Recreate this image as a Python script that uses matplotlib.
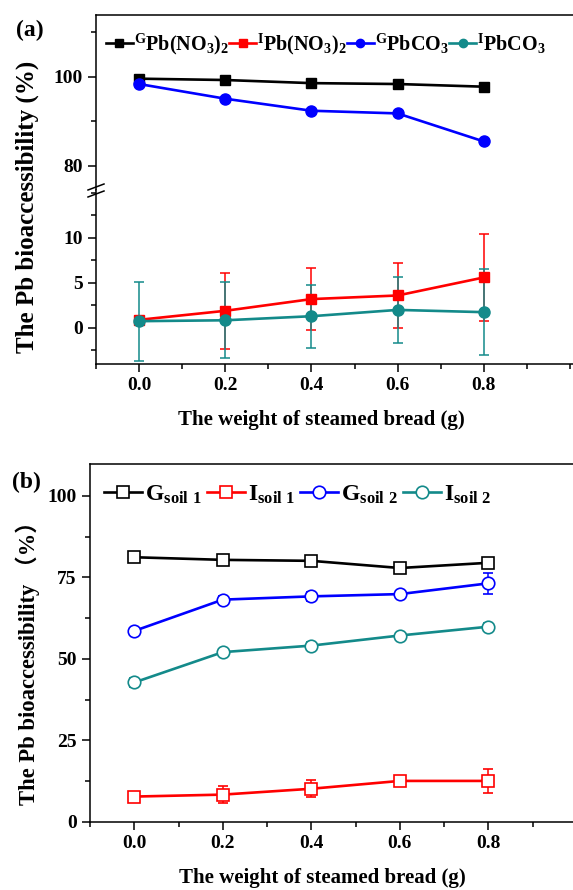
import numpy as np
import matplotlib
matplotlib.use('Agg')
import matplotlib.pyplot as plt
from matplotlib.lines import Line2D
from matplotlib.ticker import MultipleLocator

plt.rcParams['font.family'] = ['Liberation Serif', 'Noto Sans CJK SC']
plt.rcParams['font.weight'] = 'bold'
plt.rcParams['mathtext.fontset'] = 'custom'
plt.rcParams['mathtext.rm'] = 'Liberation Serif:bold'
plt.rcParams['mathtext.it'] = 'Liberation Serif:bold'
plt.rcParams['mathtext.bf'] = 'Liberation Serif:bold'

# data
x = [0.0, 0.2, 0.4, 0.6, 0.8]
xlabels = ['0.0', '0.2', '0.4', '0.6', '0.8']

# (a)
g_pbno3 = [99.6, 99.3, 98.6, 98.4, 97.8]
g_pbco3 = [98.4, 95.1, 92.4, 91.8, 85.5]
i_pbno3 = [0.9, 1.9, 3.2, 3.6, 5.6]
i_pbno3_err = [0.4, 4.2, 3.4, 3.6, 4.8]
i_pbco3 = [0.75, 0.85, 1.3, 2.0, 1.75]
i_pbco3_err = [4.4, 4.2, 3.5, 3.7, 4.8]
labels_a = [r'$^{\rm G}\rm Pb(NO_3)_2$', r'$^{\rm I}\rm Pb(NO_3)_2$',
            r'$^{\rm G}\rm PbCO_3$', r'$^{\rm I}\rm PbCO_3$']

# (b)
g_soil1 = [81.2, 80.4, 80.1, 77.9, 79.5]
g_soil1_err = [1.0, 0.8, 1.0, 0.8, 1.5]
i_soil1 = [7.8, 8.4, 10.2, 12.6, 12.6]
i_soil1_err = [1.5, 2.5, 2.6, 1.5, 3.6]
g_soil2 = [58.6, 68.2, 69.2, 69.9, 73.2]
g_soil2_err = [1.0, 1.0, 1.3, 1.0, 3.2]
i_soil2 = [42.8, 52.1, 54.1, 57.2, 59.9]
i_soil2_err = [1.5, 0.8, 1.0, 0.8, 1.0]
labels_b = [r'G$_{\rm soil\ 1}$', r'I$_{\rm soil\ 1}$', r'G$_{\rm soil\ 2}$', r'I$_{\rm soil\ 2}$']

W, H = 573, 890
fig = plt.figure(figsize=(W / 100, H / 100), dpi=100)

def fx(px):
    return px / W

def fy(py):
    return 1 - py / H

TEAL = '#138a8a'
lw = 1.9
tick_fs = 14

def style(ax):
    ax.spines['right'].set_visible(False)
    for s in ax.spines.values():
        s.set_linewidth(1.1)
    ax.tick_params(which='major', direction='out', length=6, width=1.1, labelsize=tick_fs)
    ax.tick_params(which='minor', direction='out', length=3.5, width=1.1)
    ax.tick_params(right=False, top=False, which='both')

# ---------- panel (a) ----------
axu = fig.add_axes([fx(96), fy(190), fx(573 - 96), fy(15) - fy(190)])
axl = fig.add_axes([fx(96), fy(364), fx(573 - 96), fy(190) - fy(364)])

for ax in (axu, axl):
    style(ax)
    ax.set_xlim(-0.1, 1.007)
    ax.xaxis.set_major_locator(MultipleLocator(0.2))
    ax.xaxis.set_minor_locator(MultipleLocator(0.1))

axu.spines['bottom'].set_visible(False)
axu.tick_params(axis='x', which='both', bottom=False, labelbottom=False)
axl.spines['top'].set_visible(False)

axu.set_ylim(74.6, 113.9)
axu.yaxis.set_major_locator(MultipleLocator(20))
axu.yaxis.set_minor_locator(MultipleLocator(10))
axl.set_ylim(-4, 15.3)
axl.set_yticks([0, 5, 10])
axl.yaxis.set_minor_locator(MultipleLocator(2.5))
axl.set_xticks(x)
axl.set_xticklabels(xlabels)

axu.plot(x, g_pbno3, '-s', color='black', lw=lw, ms=7)
axu.plot(x, g_pbco3, '-o', color='#0000ff', lw=lw, ms=8)
axl.errorbar(x, i_pbno3, yerr=i_pbno3_err, fmt='-s', color='#ff0000', lw=lw, ms=7,
             elinewidth=1.1, capsize=3.5, capthick=1.1)
axl.errorbar(x, i_pbco3, yerr=i_pbco3_err, fmt='-o', color=TEAL, lw=lw, ms=8,
             elinewidth=1.1, capsize=3.5, capthick=1.1)
ha = [Line2D([], [], color=c, marker=m, lw=lw, ms=s)
      for c, m, s in (('black', 's', 5.5), ('#ff0000', 's', 5.5),
                      ('#0000ff', 'o', 6), (TEAL, 'o', 6))]

axu.legend(ha, labels_a,
           ncol=4, loc='upper left', bbox_to_anchor=(-0.005, 0.975), frameon=False,
           fontsize=14.5, handlelength=1.35, handletextpad=0.05, columnspacing=0.0,
           borderaxespad=0.2)

# break marks on left spine
for yb in (187, 194):
    fig.add_artist(Line2D([fx(88), fx(104)], [fy(yb + 3), fy(yb - 3)],
                          color='black', lw=1.1, transform=fig.transFigure))

fig.text(fx(27), fy(207), 'The Pb bioaccessibility (%)', rotation=90, ha='center',
         va='center', fontsize=18, fontweight='bold')
fig.text(fx(321), fy(420), 'The weight of steamed bread (g)', ha='center', va='center',
         fontsize=15, fontweight='bold')
fig.text(fx(30), fy(30), '(a)', ha='center', va='center', fontsize=17, fontweight='bold')

# ---------- panel (b) ----------
axb = fig.add_axes([fx(90), fy(822), fx(573 - 90), fy(464) - fy(822)])
style(axb)
axb.set_xlim(-0.1, 0.991)
axb.xaxis.set_major_locator(MultipleLocator(0.2))
axb.xaxis.set_minor_locator(MultipleLocator(0.1))
axb.set_xticks(x)
axb.set_xticklabels(xlabels)
axb.set_ylim(0, 109.8)
axb.yaxis.set_major_locator(MultipleLocator(25))
axb.yaxis.set_minor_locator(MultipleLocator(12.5))

kw = dict(lw=lw, ms=9, mfc='white', mew=1.2, elinewidth=1.1, capsize=3.5, capthick=1.1)
axb.errorbar(x, g_soil1, yerr=g_soil1_err, fmt='-s', color='black', **kw)
axb.errorbar(x, i_soil1, yerr=i_soil1_err, fmt='-s', color='#ff0000', **kw)
axb.errorbar(x, g_soil2, yerr=g_soil2_err, fmt='-o', color='#0000ff', **kw)
axb.errorbar(x, i_soil2, yerr=i_soil2_err, fmt='-o', color=TEAL, **kw)

lh = [Line2D([], [], color=c, marker=m, lw=lw, ms=9, mfc='white', mew=1.2)
      for c, m in (('black', 's'), ('#ff0000', 's'), ('#0000ff', 'o'), (TEAL, 'o'))]
axb.legend(lh, labels_b,
           ncol=4, loc='upper left', bbox_to_anchor=(0.0, 0.985), frameon=False,
           fontsize=17, handlelength=1.6, handletextpad=0.15, columnspacing=0.2,
           borderaxespad=0.2)

fig.text(fx(28), fy(658), 'The Pb bioaccessibility （%）', rotation=90, ha='center',
         va='center', fontsize=16.3, fontweight='bold')
fig.text(fx(322), fy(878), 'The weight of steamed bread (g)', ha='center', va='center',
         fontsize=15, fontweight='bold')
fig.text(fx(26), fy(482), '(b)', ha='center', va='center', fontsize=17, fontweight='bold')

fig.savefig('out.png', dpi=100)
